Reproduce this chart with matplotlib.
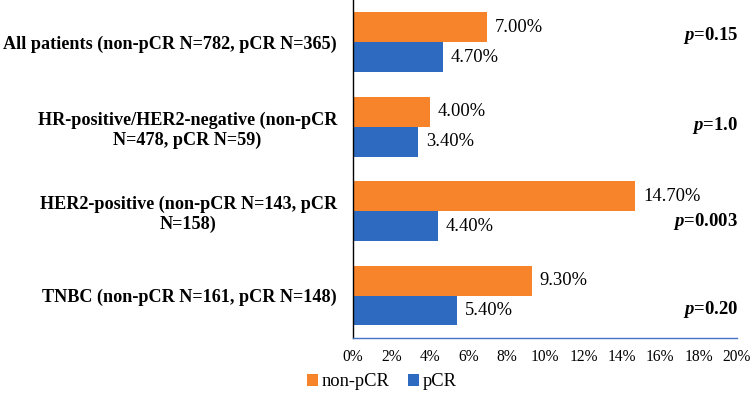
import matplotlib.pyplot as plt
import matplotlib.transforms as mtransforms
import numpy as np

plt.rcParams['font.family'] = ['Liberation Serif', 'DejaVu Serif']
plt.rcParams['mathtext.fontset'] = 'custom'
plt.rcParams['mathtext.rm'] = 'Liberation Serif'
plt.rcParams['mathtext.it'] = 'Liberation Serif:italic'
plt.rcParams['mathtext.bf'] = 'Liberation Serif:bold'
plt.rcParams['mathtext.bfit'] = 'Liberation Serif:italic:bold'

categories = [
    'All patients (non-pCR N=782, pCR N=365)',
    'HR-positive/HER2-negative (non-pCR\nN=478, pCR N=59)',
    'HER2-positive (non-pCR N=143, pCR\nN=158)',
    'TNBC (non-pCR N=161, pCR N=148)',
]
non_pcr = [7.0, 4.0, 14.7, 9.3]
pcr = [4.7, 3.4, 4.4, 5.4]
p_values = ['0.15', '1.0', '0.003', '0.20']
p_offsets = [-0.08, -0.02, 0.12, 0.16]

orange = '#F7832A'
blue = '#2E6BC0'

fig = plt.figure(figsize=(7.5, 3.97), dpi=100)
ax = fig.add_axes([0.4707, 0.149, 0.512, 0.851])

y = np.arange(len(categories))
h = 0.353
ax.barh(y - h / 2, non_pcr, height=h, color=orange, label='non-pCR')
ax.barh(y + h / 2, pcr, height=h, color=blue, label='pCR')

for i in range(len(categories)):
    ax.text(non_pcr[i] + 0.4, y[i] - h / 2, f'{non_pcr[i]:.2f}%',
            va='center', ha='left', fontsize=13.3)
    ax.text(pcr[i] + 0.4, y[i] + h / 2, f'{pcr[i]:.2f}%',
            va='center', ha='left', fontsize=13.3)

trans = mtransforms.blended_transform_factory(ax.transAxes, ax.transData)
for i, pv in enumerate(p_values):
    ax.text(1.003, y[i] + p_offsets[i], r'$\bfit{p}$' + '=' + pv,
            transform=trans, ha='right', va='center', fontsize=13.5,
            fontweight='bold')

ax.set_ylim(len(categories) - 0.5, -0.5)
ax.set_xlim(0, 20)
ax.set_yticks(y)
ax.set_yticklabels(categories, fontsize=13.1, fontweight='bold',
                   multialignment='center')
ax.tick_params(axis='y', length=0, pad=11.5)
ax.set_xticks(np.arange(0, 21, 2))
ax.set_xticklabels([f'{v}%' for v in range(0, 21, 2)], fontsize=11.2)
ax.tick_params(axis='x', length=0, pad=8)

for s in ['top', 'right']:
    ax.spines[s].set_visible(False)
ax.spines['left'].set_color('black')
ax.spines['left'].set_linewidth(1.0)
ax.spines['bottom'].set_color('#4472C4')
ax.spines['bottom'].set_linewidth(1.0)

fig.legend(loc='center', bbox_to_anchor=(382 / 750, 1 - 382 / 397), ncol=2,
           frameon=False, fontsize=13.3, handlelength=0.6, handleheight=0.6,
           handletextpad=0.2, columnspacing=1.0)

fig.savefig('out.png', dpi=100)
